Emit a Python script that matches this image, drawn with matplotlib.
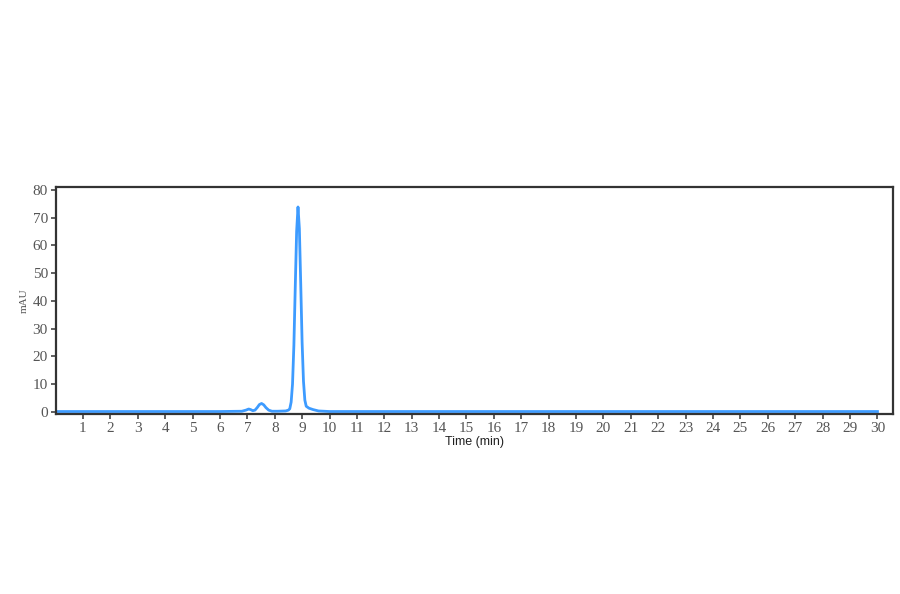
import matplotlib
matplotlib.use("Agg")
import matplotlib.pyplot as plt

# Chromatogram trace (time in min, absorbance in mAU)
time_min = [0.0, 6.0, 6.8, 6.95, 7.05, 7.12, 7.2, 7.28, 7.36, 7.44, 7.52, 7.6, 7.68,
            7.78, 7.9, 8.1, 8.4, 8.5, 8.55, 8.6, 8.65, 8.7, 8.75, 8.8, 8.85, 8.9,
            8.95, 9.0, 9.05, 9.1, 9.15, 9.25, 9.4, 9.6, 10.0, 20.0, 30.0]
mau = [0.1, 0.1, 0.2, 0.6, 1.0, 0.8, 0.4, 0.6, 1.5, 2.6, 3.0, 2.5, 1.5,
       0.6, 0.2, 0.2, 0.3, 0.6, 1.1, 3.5, 10.0, 24.0, 45.0, 65.0, 73.8, 66.0,
       46.0, 25.0, 11.0, 4.2, 2.0, 1.3, 0.8, 0.3, 0.1, 0.1, 0.1]

x_ticks = list(range(1, 31))
y_ticks = list(range(0, 81, 10))

fig = plt.figure(figsize=(9, 5.94), dpi=100)
ax = fig.add_axes([0.0617, 0.3030, 0.9300, 0.3822])

ax.plot(time_min, mau, color="#3d9bff", lw=2.0, solid_joinstyle="round")

ax.set_xlim(0, 30.55)
ax.set_ylim(-0.8, 81)
ax.set_xticks(x_ticks)
ax.set_yticks(y_ticks)

serif = ["Liberation Serif", "DejaVu Serif"]
for lab in ax.get_xticklabels() + ax.get_yticklabels():
    lab.set_fontfamily(serif)
    lab.set_fontsize(11)
    lab.set_color("#555555")

ax.tick_params(axis="both", direction="out", length=3.5, width=1.2, color="#444444", pad=2)

for s in ax.spines.values():
    s.set_color("#333333")
    s.set_linewidth(1.6)

ax.set_xlabel("Time (min)", fontsize=9, family=["Liberation Sans", "DejaVu Sans"],
              color="#222222", labelpad=1)
ax.set_ylabel("mAU", fontsize=8, family=serif, color="#555555", labelpad=3)

fig.savefig("out.png", dpi=100, facecolor="white")
